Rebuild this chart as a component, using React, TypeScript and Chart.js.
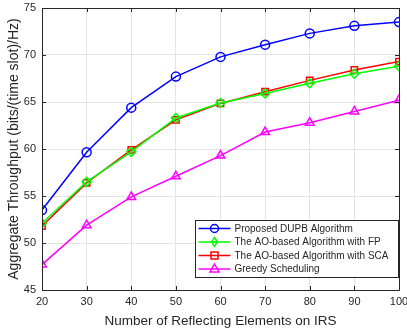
import React, { useEffect, useRef } from "react";
import { Chart, registerables } from "chart.js";

Chart.register(...registerables);

const xValues = [20, 30, 40, 50, 60, 70, 80, 90, 100];
const dupb = [53.5, 59.65, 64.4, 67.7, 69.8, 71.1, 72.3, 73.1, 73.5];
const aoFp = [52.1, 56.5, 59.7, 63.3, 64.9, 65.9, 67.0, 68.0, 68.8];
const aoSca = [51.8, 56.4, 59.9, 63.1, 64.85, 66.1, 67.3, 68.4, 69.3];
const greedy = [47.7, 51.9, 54.9, 57.1, 59.3, 61.8, 62.8, 64.0, 65.2];
const seriesNames = [
  "Proposed DUPB Algorithm",
  "The AO-based Algorithm with FP",
  "The AO-based Algorithm with SCA",
  "Greedy Scheduling",
];
const seriesColors = ["#0000ff", "#00ff00", "#ff0000", "#ff00ff"];
const seriesMarkers = ["circle", "rectRot", "rect", "triangle"];
const xTicks = [20, 30, 40, 50, 60, 70, 80, 90, 100];
const yTicks = [45, 50, 55, 60, 65, 70, 75];

const FONT = "'Liberation Sans', Arial, Helvetica, sans-serif";
const AXIS = "#262626";

function drawMarker(ctx: CanvasRenderingContext2D, style: string, x: number, y: number, color: string) {
  ctx.save();
  ctx.strokeStyle = color;
  ctx.lineWidth = 1.5;
  ctx.beginPath();
  const r = 4;
  if (style === "circle") {
    ctx.arc(x, y, r, 0, Math.PI * 2);
  } else if (style === "rectRot") {
    ctx.moveTo(x, y - r - 0.5);
    ctx.lineTo(x + r - 1, y);
    ctx.lineTo(x, y + r + 0.5);
    ctx.lineTo(x - r + 1, y);
    ctx.closePath();
  } else if (style === "rect") {
    ctx.rect(x - 3.5, y - 3.5, 7, 7);
  } else {
    ctx.moveTo(x, y - r - 1);
    ctx.lineTo(x + r + 0.5, y + r - 1);
    ctx.lineTo(x - r - 0.5, y + r - 1);
    ctx.closePath();
  }
  ctx.stroke();
  ctx.restore();
}

const boxPlugin = {
  id: "matlabBox",
  afterDatasetsDraw(chart: any) {
    const { ctx, chartArea: a, scales } = chart;
    ctx.save();
    ctx.strokeStyle = AXIS;
    ctx.lineWidth = 1;
    ctx.beginPath();
    ctx.rect(Math.round(a.left) + 0.5, Math.round(a.top) + 0.5, Math.round(a.right - a.left), Math.round(a.bottom - a.top));
    ctx.stroke();
    const tl = 4;
    ctx.beginPath();
    for (const v of xTicks) {
      const x = Math.round(scales.x.getPixelForValue(v)) + 0.5;
      ctx.moveTo(x, a.bottom);
      ctx.lineTo(x, a.bottom - tl);
      ctx.moveTo(x, a.top);
      ctx.lineTo(x, a.top + tl);
    }
    for (const v of yTicks) {
      const y = Math.round(scales.y.getPixelForValue(v)) + 0.5;
      ctx.moveTo(a.left, y);
      ctx.lineTo(a.left + tl, y);
      ctx.moveTo(a.right, y);
      ctx.lineTo(a.right - tl, y);
    }
    ctx.stroke();

    // legend
    const lx = 195.5, ly = 220.5, lw = 203, lh = 57;
    ctx.fillStyle = "#ffffff";
    ctx.fillRect(lx, ly, lw, lh);
    ctx.strokeStyle = AXIS;
    ctx.strokeRect(lx, ly, lw, lh);
    ctx.font = `10px ${FONT}`;
    ctx.textBaseline = "middle";
    for (let i = 0; i < seriesNames.length; i++) {
      const cy = ly + 8 + i * 13.5;
      ctx.strokeStyle = seriesColors[i];
      ctx.lineWidth = 1.5;
      ctx.beginPath();
      ctx.moveTo(lx + 3, cy);
      ctx.lineTo(lx + 35, cy);
      ctx.stroke();
      drawMarker(ctx, seriesMarkers[i], lx + 19, cy, seriesColors[i]);
      ctx.fillStyle = AXIS;
      ctx.fillText(seriesNames[i], lx + 39, cy + 0.5);
    }
    ctx.restore();
  },
};

export default function App() {
  const ref = useRef<HTMLCanvasElement>(null);
  useEffect(() => {
    if (!ref.current) return;
    const all = [dupb, aoFp, aoSca, greedy];
    const chart = new Chart(ref.current, {
      type: "line",
      data: {
        datasets: all.map((vals, i) => ({
          label: seriesNames[i],
          data: vals.map((v, j) => ({ x: xValues[j], y: v })),
          borderColor: seriesColors[i],
          backgroundColor: "rgba(0,0,0,0)",
          borderWidth: 1.5,
          pointStyle: seriesMarkers[i] as any,
          pointRadius: seriesMarkers[i] === "triangle" ? 5 : 4.5,
          pointBorderWidth: 1.5,
          pointBorderColor: seriesColors[i],
          pointBackgroundColor: "rgba(0,0,0,0)",
          tension: 0,
          fill: false,
        })),
      },
      options: {
        animation: false,
        responsive: false,
        maintainAspectRatio: false,
        layout: { padding: { top: 8, right: 8, left: 0, bottom: 0 } },
        plugins: { legend: { display: false }, tooltip: { enabled: false } },
        scales: {
          x: {
            type: "linear",
            min: 20,
            max: 100,
            afterBuildTicks: (s: any) => { s.ticks = xTicks.map((v) => ({ value: v })); },
            afterFit: (s: any) => { s.height = 43; s.paddingLeft = 0; s.paddingRight = 0; },
            grid: { color: "#e3e3e3", drawTicks: false, lineWidth: 1 },
            border: { display: false },
            ticks: { color: AXIS, font: { family: FONT, size: 11 }, padding: 5, maxRotation: 0 },
            title: { display: true, text: "Number of Reflecting Elements on IRS", color: AXIS, font: { family: FONT, size: 13.5 }, padding: { top: 0, bottom: 4 } },
          },
          y: {
            type: "linear",
            min: 45,
            max: 75,
            afterBuildTicks: (s: any) => { s.ticks = yTicks.map((v) => ({ value: v })); },
            afterFit: (s: any) => { s.width = 42; s.paddingTop = 0; s.paddingBottom = 0; },
            grid: { color: "#e3e3e3", drawTicks: false, lineWidth: 1 },
            border: { display: false },
            ticks: { color: AXIS, font: { family: FONT, size: 11 }, padding: 6 },
            title: { display: true, text: "Aggregate Throughput (bits/(time slot)/Hz)", color: AXIS, font: { family: FONT, size: 14 }, padding: { top: 6, bottom: 0 } },
          },
        },
      },
      plugins: [boxPlugin],
    });
    return () => chart.destroy();
  }, []);
  return (
    <div style={{ position: "fixed", left: 0, top: 0, width: 407, height: 333, background: "#fff" }}>
      <canvas ref={ref} width={407} height={333} style={{ width: 407, height: 333 }} />
    </div>
  );
}
